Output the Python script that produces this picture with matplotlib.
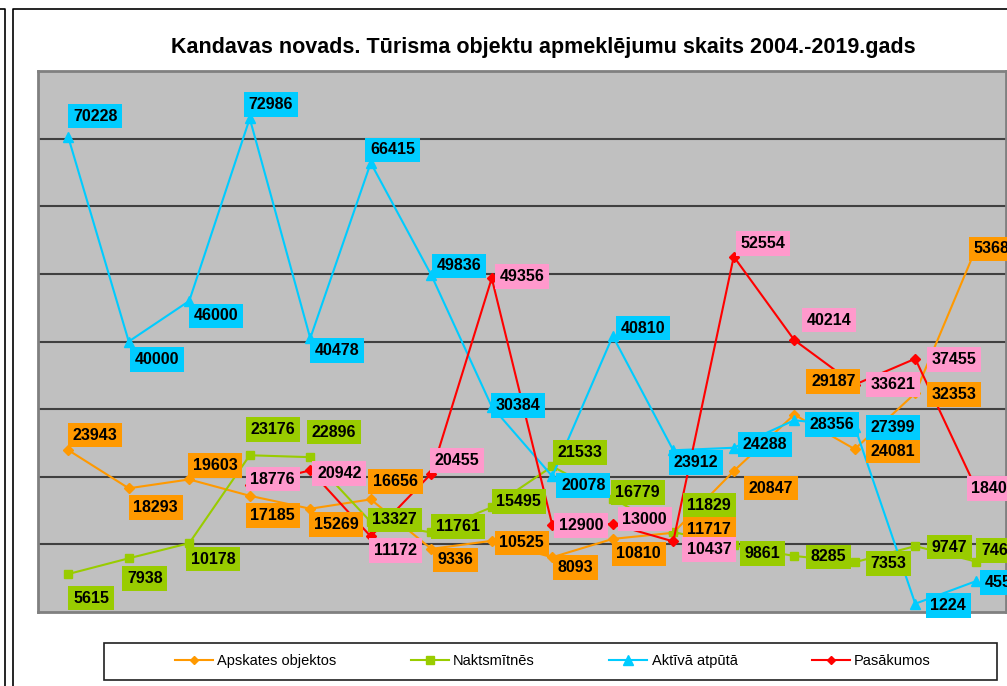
import numpy as np
import matplotlib
matplotlib.use("Agg")
import matplotlib.pyplot as plt
from matplotlib.lines import Line2D
from matplotlib.patches import Rectangle

plt.rcParams['font.family'] = ['Liberation Sans', 'DejaVu Sans']

# ---------------------------------------------------------------------------
# Data (2004 - 2019)
# ---------------------------------------------------------------------------
years = list(range(2004, 2020))

apskates = [23943, 18293, 19603, 17185, 15269, 16656, 9336, 10525,
            8093, 10810, 11717, 20847, 29187, 24081, 32353, 53680]
naktsmitnes = [5615, 7938, 10178, 23176, 22896, 13327, 11761, 15495,
               21533, 16779, 11829, 9861, 8285, 7353, 9747, 7460]
aktiva = [70228, 40000, 46000, 72986, 40478, 66415, 49836, 30384,
          20078, 40810, 23912, 24288, 28356, 27399, 1224, 4550]
pasakumi = [np.nan, np.nan, np.nan, 18776, 20942, 11172, 20455, 49356,
            12900, 13000, 10437, 52554, 40214, 33621, 37455, 18400]

series_names = ['Apskates objektos', 'Naktsmītnēs', 'Aktīvā atpūtā', 'Pasākumos']

# label offsets (pixels, x right / y down) picked by hand like in the excel file
off_apskates = [(27, -15), (27, 19), (26, -14), (23, 20), (26, 16), (25, -18), (24, 11), (30, 2),
                (23, 10), (26, 15), (36, -3), (37, 17), (39, -33), (38, 2), (39, 1), (20, 0)]
off_nakts = [(23, 24), (16, 20), (24, 16), (23, -26), (24, -25), (24, -2), (27, -6), (27, -6),
             (28, -14), (25, -6), (36, -27), (29, 8), (34, 1), (34, 1), (34, 1), (23, -11)]
off_aktiva = [(27, -21), (28, 18), (27, 15), (21, -14), (27, 12), (22, -13), (28, -9), (26, -1),
              (31, 9), (30, -8), (23, 12), (31, -3), (38, 4), (38, 1), (33, 2), (27, 1)]
off_pasak = [None, None, None, (23, -6), (29, 3), (25, 14), (26, -13), (30, -2),
             (29, 1), (32, -5), (36, 8), (29, -13), (35, -20), (38, 0), (39, 1), (18, 1)]

line_colors = ['#FF9900', '#99CC00', '#00CCFF', '#FF0000']
box_colors = ['#FF9900', '#99CC00', '#00CCFF', '#FF99CC']
markers = ['D', 's', '^', 'D']
msizes = [5, 6, 7, 5]

########################################################################################################################
# Figure
########################################################################################################################

W, H = 1007, 686
fig = plt.figure(figsize=(W / 100, H / 100), dpi=100)


def fx(px):
    return px / W


def fy(py):
    return 1 - py / H


ax = fig.add_axes([fx(38), fy(612), fx(1006) - fx(38), fy(71) - fy(612)])
ax.set_facecolor('#C0C0C0')
ax.set_xlim(-0.5, len(years) - 0.5)
ax.set_ylim(0, 80000)
ax.set_yticks(range(10000, 80000, 10000))
ax.yaxis.grid(True, color='#404040', linewidth=1.5)
ax.set_axisbelow(True)
ax.tick_params(left=False, bottom=False, labelleft=False, labelbottom=False)
for sp in ax.spines.values():
    sp.set_color('#808080')
    sp.set_linewidth(2)

x = np.arange(len(years))
all_series = [apskates, naktsmitnes, aktiva, pasakumi]
all_offsets = [off_apskates, off_nakts, off_aktiva, off_pasak]

for i, vals in enumerate(all_series):
    ax.plot(x, vals, color=line_colors[i], linewidth=1.5, marker=markers[i],
            markersize=msizes[i], markeredgecolor=line_colors[i], zorder=3 + i * 0.1)

# data labels on top of the lines
for i, vals in enumerate(all_series):
    for j, v in enumerate(vals):
        if np.isnan(v):
            continue
        dx, dy = all_offsets[i][j]
        ax.annotate(str(int(v)), (x[j], v), xytext=(dx, -dy), textcoords='offset pixels',
                    ha='center', va='center', fontsize=11.5, fontweight='bold', color='black',
                    bbox=dict(boxstyle='square,pad=0.3', facecolor=box_colors[i], edgecolor='none'),
                    zorder=10 + i, annotation_clip=False)

fig.text(fx(543), fy(47), 'Kandavas novads. Tūrisma objektu apmeklējumu skaits 2004.-2019.gads',
         ha='center', va='center', fontsize=15.5, fontweight='bold')

# legend box + entries
fig.patches.append(Rectangle((fx(104), fy(680)), fx(997) - fx(104), fy(643) - fy(680),
                             transform=fig.transFigure, facecolor='white', edgecolor='#202020',
                             linewidth=1.2))
handles = [Line2D([], [], color=line_colors[i], marker=markers[i], markersize=msizes[i] - 0.5,
                  linewidth=1.5) for i in range(4)]
fig.legend(handles, series_names, loc='center', bbox_to_anchor=(fx(553), fy(661)), ncol=4,
           frameon=False, fontsize=10.5, handlelength=2.6, handletextpad=0.3, columnspacing=5.1)

# outer frame lines of the surrounding document
fig.add_artist(Line2D([0, fx(5), fx(5)], [fy(9), fy(9), 0], color='black', linewidth=1.2))
fig.add_artist(Line2D([1, fx(13), fx(13)], [fy(9), fy(9), 0], color='black', linewidth=1.2))

fig.savefig('out.png', dpi=100)
